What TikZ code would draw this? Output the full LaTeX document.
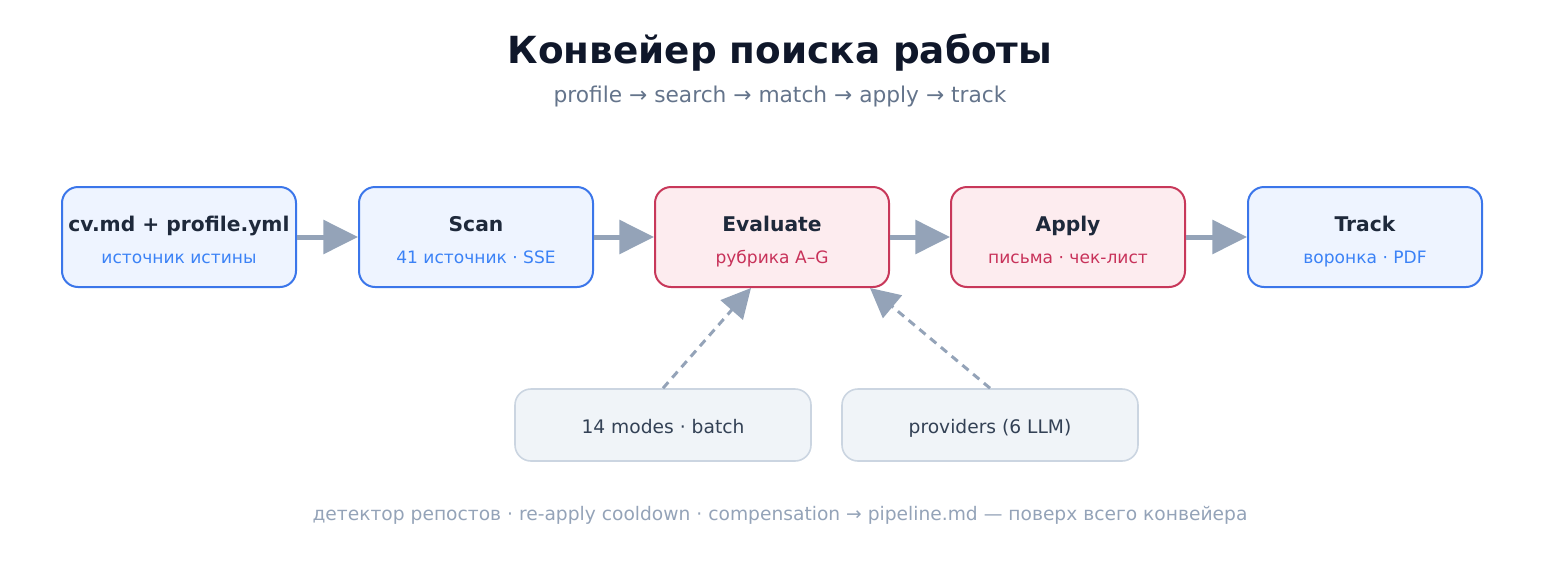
\documentclass[tikz,border=0pt]{standalone}
\usepackage{fontspec}
\setmainfont{DejaVu Sans}
\usetikzlibrary{arrows.meta,calc}
\definecolor{titlec}{HTML}{0F172A}
\definecolor{subc}{HTML}{64748B}
\definecolor{darkc}{HTML}{1E293B}
\definecolor{bluefill}{HTML}{EEF4FF}
\definecolor{bluestroke}{HTML}{3B76EA}
\definecolor{bluetext}{HTML}{3B82F6}
\definecolor{redfill}{HTML}{FDECEF}
\definecolor{redstroke}{HTML}{C8385A}
\definecolor{redtext}{HTML}{C8325A}
\definecolor{grayfill}{HTML}{F0F4F8}
\definecolor{graystroke}{HTML}{CBD5E1}
\definecolor{arrowc}{HTML}{94A3B8}
\definecolor{footc}{HTML}{94A3B8}
\definecolor{modec}{HTML}{334155}
\tikzset{
  stagebox/.style={draw, line width=1.5pt, rounded corners=12pt, minimum width=175.5pt, minimum height=75pt, inner sep=0pt},
  bluebox/.style={stagebox, draw=bluestroke, fill=bluefill},
  redbox/.style={stagebox, draw=redstroke, fill=redfill},
  sidebox/.style={draw=graystroke, fill=grayfill, line width=1.2pt, rounded corners=12pt, minimum width=222pt, minimum height=54pt, inner sep=0pt},
  sidetext/.style={font=\fontsize{14pt}{16pt}\selectfont, text=modec, inner sep=0pt, anchor=base},
  stagetitle/.style={font=\bfseries\fontsize{15.2pt}{18pt}\selectfont, text=darkc, inner sep=0pt, anchor=base},
  bluesub/.style={font=\fontsize{12.8pt}{14pt}\selectfont, text=bluetext, inner sep=0pt, anchor=base},
  redsub/.style={font=\fontsize{12.8pt}{14pt}\selectfont, text=redtext, inner sep=0pt, anchor=base},
  flow/.style={draw=arrowc, line width=3.75pt, -{Triangle[length=26pt,width=25pt]}, arrowc},
  feed/.style={draw=arrowc, line width=2.25pt, dash pattern=on 6pt off 4.5pt, -{Triangle[length=22pt,width=22pt]}, arrowc},
}
\begin{document}
\begin{tikzpicture}[x=0.75pt,y=-0.75pt]
\useasboundingbox (0,0) rectangle (1560,561);
\node[font=\bfseries\fontsize{28pt}{32pt}\selectfont, text=titlec, inner sep=0pt, anchor=base] (title) at (780,63) {Конвейер поиска работы};
\node[font=\fontsize{16.3pt}{20pt}\selectfont, text=subc, inner sep=0pt, anchor=base] (subtitle) at (780,102) {profile → search → match → apply → track};

\node[bluebox] (b1) at (179,237) {};
\node[bluebox] (b2) at (476,237) {};
\node[redbox] (b3) at (772,237) {};
\node[redbox] (b4) at (1068,237) {};
\node[bluebox] (b5) at (1365,237) {};

\node[stagetitle] (t1) at ($(b1.center)+(0,-6)$) {cv.md + profile.yml};
\node[bluesub] (s1) at ($(b1.center)+(0,26)$) {источник истины};
\node[stagetitle] (t2) at ($(b2.center)+(0,-6)$) {Scan};
\node[bluesub] (s2) at ($(b2.center)+(0,26)$) {41 источник · SSE};
\node[stagetitle] (t3) at ($(b3.center)+(0,-6)$) {Evaluate};
\node[redsub] (s3) at ($(b3.center)+(0,26)$) {рубрика A–G};
\node[stagetitle] (t4) at ($(b4.center)+(0,-6)$) {Apply};
\node[redsub] (s4) at ($(b4.center)+(0,26)$) {письма · чек-лист};
\node[stagetitle] (t5) at ($(b5.center)+(0,-6)$) {Track};
\node[bluesub] (s5) at ($(b5.center)+(0,26)$) {воронка · PDF};

\draw[flow] (b1.east) -- (b2.west);
\draw[flow] (b2.east) -- (b3.west);
\draw[flow] (b3.east) -- (b4.west);
\draw[flow] (b4.east) -- (b5.west);

\node[sidebox] (m1) at (663,425) {};
\node[sidebox] (m2) at (990,425) {};
\node[sidetext] (m1t) at ($(m1.center)+(0,8)$) {14 modes · batch};
\node[sidetext] (m2t) at ($(m2.center)+(0,8)$) {providers (6 LLM)};

\coordinate (e1) at ($(b3.south)+(-21,0)$);
\coordinate (e2) at ($(b3.south)+(98,0)$);
\draw[feed] (m1.north) -- (e1);
\draw[feed] (m2.north) -- (e2);

\node[font=\fontsize{14pt}{16pt}\selectfont, text=footc, inner sep=0pt, anchor=base] (foot) at (780,520) {детектор репостов · re-apply cooldown · compensation → pipeline.md — поверх всего конвейера};
\end{tikzpicture}
\end{document}
